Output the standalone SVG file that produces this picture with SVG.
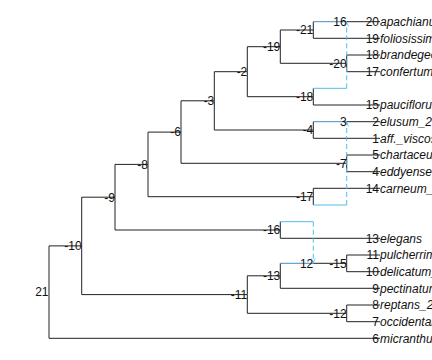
<svg xmlns="http://www.w3.org/2000/svg" width="432" height="360" viewBox="0 0 432 360">
<defs>
<marker id="arr" viewBox="0 0 10 10" refX="9" refY="5" markerWidth="5" markerHeight="5" orient="auto" markerUnits="userSpaceOnUse">
<path d="M1,1 L9,5 L1,9" fill="none" stroke="#4fbdf0" stroke-width="1.6"/>
</marker>
<style>
.e{fill:none;stroke:#222;stroke-width:1}
.h{fill:none;stroke:#3f8fc4;stroke-width:1}
.r{fill:none;stroke:#4fbdf0;stroke-width:1}
.rd{fill:none;stroke:#4fbdf0;stroke-width:1;stroke-dasharray:5 3}
.n{font-family:"Liberation Sans",Arial,sans-serif;font-size:12px;fill:#111;text-anchor:end}
.t{font-family:"Liberation Sans",Arial,sans-serif;font-size:12px;font-style:italic;fill:#111}
</style>
</defs>
<rect width="432" height="360" fill="#fff"/>
<g id="connectors">
<!-- root 21 -->
<path class="e" d="M49,292.1 V245.9 H81.7"/>
<path class="e" d="M49,292.1 V338.3 H380"/>
<!-- -10 -->
<path class="e" d="M81.7,245.9 V197.2 H115"/>
<path class="e" d="M81.7,245.9 V294.6 H247.3"/>
<!-- -9 -->
<path class="e" d="M115,197.2 V164.4 H148"/>
<path class="e" d="M115,197.2 V230 H280.3"/>
<!-- -8 -->
<path class="e" d="M148,164.4 V132.1 H181"/>
<path class="e" d="M148,164.4 V196.7 H313.3"/>
<!-- -6 -->
<path class="e" d="M181,132.1 V100.8 H214.3"/>
<path class="e" d="M181,132.1 V163.3 H346.7"/>
<!-- -3 -->
<path class="e" d="M214.3,100.8 V71.7 H247.3"/>
<path class="e" d="M214.3,100.8 V130 H313.3"/>
<!-- -2 -->
<path class="e" d="M247.3,71.7 V46.7 H280.3"/>
<path class="e" d="M247.3,71.7 V96.7 H313.3"/>
<!-- -19 -->
<path class="e" d="M280.3,46.7 V30 H313.3"/>
<path class="e" d="M280.3,46.7 V63.3 H346.7"/>
<!-- -21 -->
<path class="e" d="M313.3,30 V21.7"/>
<path class="h" d="M313.3,21.7 H346.7"/>
<path class="e" d="M346.7,21.7 H380"/>
<path class="e" d="M313.3,30 V38.3 H380"/>
<!-- -20 -->
<path class="e" d="M346.7,63.3 V55 H380"/>
<path class="e" d="M346.7,63.3 V71.7 H380"/>
<!-- -18 -->
<path class="e" d="M313.3,96.7 V88.3"/>
<path class="r" d="M313.3,88.3 H346.7"/>
<path class="e" d="M313.3,96.7 V105 H380"/>
<!-- -4 -->
<path class="e" d="M313.3,130 V121.7"/>
<path class="h" d="M313.3,121.7 H346.7"/>
<path class="e" d="M346.7,121.7 H380"/>
<path class="e" d="M313.3,130 V138.3 H380"/>
<!-- -7 -->
<path class="e" d="M346.7,163.3 V155 H380"/>
<path class="e" d="M346.7,163.3 V171.7 H380"/>
<!-- -17 -->
<path class="e" d="M313.3,196.7 V188.3 H380"/>
<path class="e" d="M313.3,196.7 V205"/>
<path class="r" d="M313.3,205 H346.7"/>
<!-- -16 -->
<path class="e" d="M280.3,230 V221.7"/>
<path class="r" d="M280.3,221.7 H313.3"/>
<path class="e" d="M280.3,230 V238.3 H380"/>
<!-- -11 -->
<path class="e" d="M247.3,294.6 V275.8 H280.3"/>
<path class="e" d="M247.3,294.6 V313.3 H346.7"/>
<!-- -13 -->
<path class="e" d="M280.3,275.8 V263.3"/>
<path class="h" d="M280.3,263.3 H313.3"/>
<path class="e" d="M313.3,263.3 H346.7"/>
<path class="e" d="M280.3,275.8 V288.3 H380"/>
<!-- -15 -->
<path class="e" d="M346.7,263.3 V255 H380"/>
<path class="e" d="M346.7,263.3 V271.7 H380"/>
<!-- -12 -->
<path class="e" d="M346.7,313.3 V305 H380"/>
<path class="e" d="M346.7,313.3 V321.7 H380"/>
<!-- reticulations -->
<path class="rd" d="M346.7,88.3 V22.5" marker-end="url(#arr)"/>
<path class="rd" d="M346.7,205 V122.5" marker-end="url(#arr)"/>
<path class="rd" d="M313.3,221.7 V262.5" marker-end="url(#arr)"/>
</g>
<g id="n21"><text class="n" x="48.5" y="296.4">21</text></g>
<g id="n-10"><text class="n" x="81.7" y="250.2">-10</text></g>
<g id="n-9"><text class="n" x="115" y="201.5">-9</text></g>
<g id="n-8"><text class="n" x="148" y="168.7">-8</text></g>
<g id="n-6"><text class="n" x="181" y="136.4">-6</text></g>
<g id="n-3"><text class="n" x="214.3" y="105.1">-3</text></g>
<g id="n-2"><text class="n" x="247.3" y="76">-2</text></g>
<g id="n-19"><text class="n" x="280.3" y="51">-19</text></g>
<g id="n-21"><text class="n" x="313.3" y="34.3">-21</text></g>
<g id="n-20"><text class="n" x="346.7" y="67.6">-20</text></g>
<g id="n-18"><text class="n" x="313.3" y="101">-18</text></g>
<g id="n-4"><text class="n" x="313.3" y="134.3">-4</text></g>
<g id="n-7"><text class="n" x="346.7" y="167.6">-7</text></g>
<g id="n-17"><text class="n" x="313.3" y="201">-17</text></g>
<g id="n-16"><text class="n" x="280.3" y="234.3">-16</text></g>
<g id="n-11"><text class="n" x="247.3" y="298.9">-11</text></g>
<g id="n-13"><text class="n" x="280.3" y="280.1">-13</text></g>
<g id="n-15"><text class="n" x="346.7" y="267.6">-15</text></g>
<g id="n-12"><text class="n" x="346.7" y="317.6">-12</text></g>
<g id="n16"><text class="n" x="346.7" y="26">16</text></g>
<g id="n3"><text class="n" x="346.7" y="126">3</text></g>
<g id="n12"><text class="n" x="313.3" y="267.6">12</text></g>
<g id="t20"><text class="n" x="379" y="26">20</text><text class="t" x="380" y="26">apachianum</text></g>
<g id="t19"><text class="n" x="379" y="42.6">19</text><text class="t" x="380" y="42.6">foliosissimum</text></g>
<g id="t18"><text class="n" x="379" y="59.3">18</text><text class="t" x="380" y="59.3">brandegeei</text></g>
<g id="t17"><text class="n" x="379" y="76">17</text><text class="t" x="380" y="76">confertum</text></g>
<g id="t15"><text class="n" x="379" y="109.3">15</text><text class="t" x="380" y="109.3">pauciflorum</text></g>
<g id="t2"><text class="n" x="379" y="126">2</text><text class="t" x="380" y="126">elusum_2</text></g>
<g id="t1"><text class="n" x="379" y="142.6">1</text><text class="t" x="380" y="142.6">aff._viscosum</text></g>
<g id="t5"><text class="n" x="379" y="159.3">5</text><text class="t" x="380" y="159.3">chartaceum</text></g>
<g id="t4"><text class="n" x="379" y="176">4</text><text class="t" x="380" y="176">eddyense</text></g>
<g id="t14"><text class="n" x="379" y="192.6">14</text><text class="t" x="380" y="192.6">carneum_</text></g>
<g id="t13"><text class="n" x="379" y="242.6">13</text><text class="t" x="380" y="242.6">elegans</text></g>
<g id="t11"><text class="n" x="379" y="259.3">11</text><text class="t" x="380" y="259.3">pulcherrimum</text></g>
<g id="t10"><text class="n" x="379" y="276">10</text><text class="t" x="380" y="276">delicatum_</text></g>
<g id="t9"><text class="n" x="379" y="292.6">9</text><text class="t" x="380" y="292.6">pectinatum</text></g>
<g id="t8"><text class="n" x="379" y="309.3">8</text><text class="t" x="380" y="309.3">reptans_2</text></g>
<g id="t7"><text class="n" x="379" y="326">7</text><text class="t" x="380" y="326">occidentale</text></g>
<g id="t6"><text class="n" x="379" y="342.6">6</text><text class="t" x="380" y="342.6">micranthum</text></g>
</svg>
